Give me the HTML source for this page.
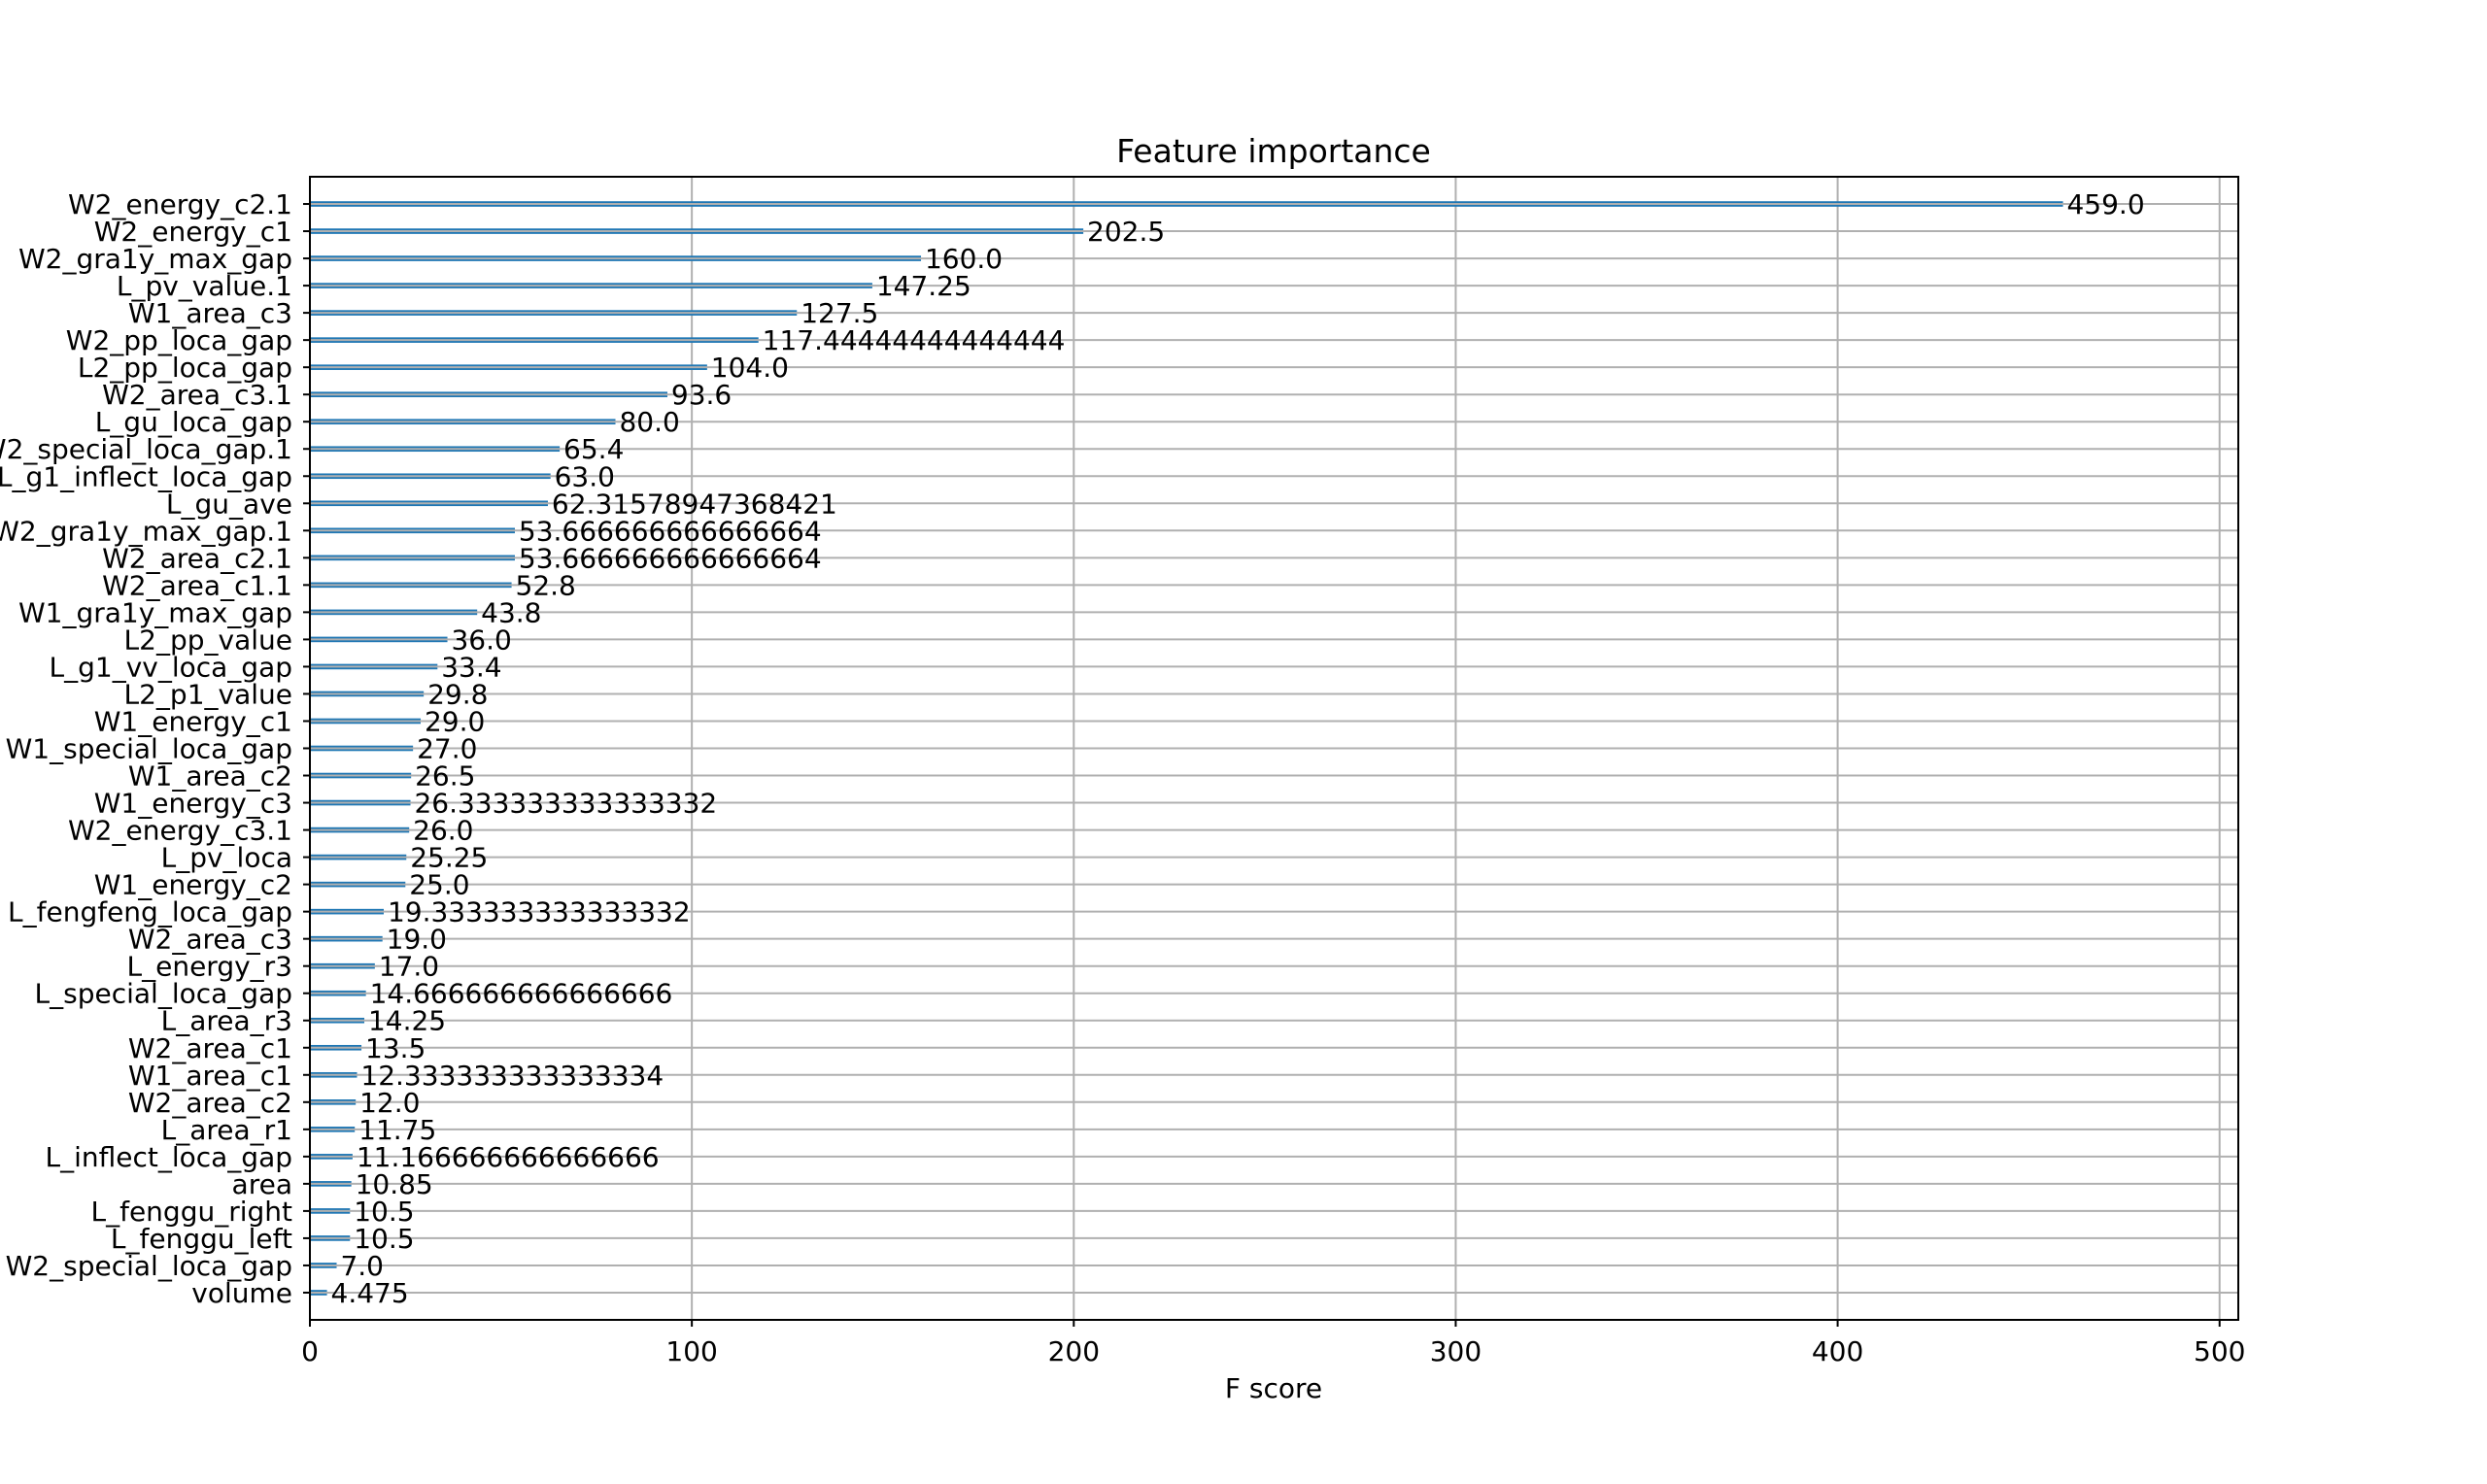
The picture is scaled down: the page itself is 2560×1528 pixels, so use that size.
<!DOCTYPE html>
<html><head><meta charset="utf-8"><style>
html,body{margin:0;padding:0;background:#fff;}
svg{display:block;font-family:"DejaVu Sans","Liberation Sans",sans-serif;}
</style></head><body>
<svg id="chart" width="2560" height="1528" viewBox="0 0 2560 1528" xmlns="http://www.w3.org/2000/svg">
<rect width="2560" height="1528" fill="#fff"/>
<g id="grid"></g>
<g id="bars"></g>
<g id="hgrid"></g>
<g id="vals"></g>
<g id="yt"></g>
<g id="xt"></g>
<rect x="319" y="182" width="1985" height="1177" fill="none" stroke="#000" stroke-width="2"/>
<text x="1311" y="167" font-size="33" text-anchor="middle">Feature importance</text>
<text x="1311" y="1439" font-size="28" text-anchor="middle">F score</text>
</svg>
<script>
const features = ["W2_energy_c2.1","W2_energy_c1","W2_gra1y_max_gap","L_pv_value.1","W1_area_c3","W2_pp_loca_gap","L2_pp_loca_gap","W2_area_c3.1","L_gu_loca_gap","W2_special_loca_gap.1","L_g1_inflect_loca_gap","L_gu_ave","W2_gra1y_max_gap.1","W2_area_c2.1","W2_area_c1.1","W1_gra1y_max_gap","L2_pp_value","L_g1_vv_loca_gap","L2_p1_value","W1_energy_c1","W1_special_loca_gap","W1_area_c2","W1_energy_c3","W2_energy_c3.1","L_pv_loca","W1_energy_c2","L_fengfeng_loca_gap","W2_area_c3","L_energy_r3","L_special_loca_gap","L_area_r3","W2_area_c1","W1_area_c1","W2_area_c2","L_area_r1","L_inflect_loca_gap","area","L_fenggu_right","L_fenggu_left","W2_special_loca_gap","volume"];
const scores = [459.0,202.5,160.0,147.25,127.5,117.44444444444444,104.0,93.6,80.0,65.4,63.0,62.31578947368421,53.666666666666664,53.666666666666664,52.8,43.8,36.0,33.4,29.8,29.0,27.0,26.5,26.333333333333332,26.0,25.25,25.0,19.333333333333332,19.0,17.0,14.666666666666666,14.25,13.5,12.333333333333334,12.0,11.75,11.166666666666666,10.85,10.5,10.5,7.0,4.475];
const xTicks = [0,100,200,300,400,500];

const NS="http://www.w3.org/2000/svg";
const L=319,R=2304,T=182,B=1359;
const xMax = Math.max(...scores)*1.1;
const n = scores.length;
function xs(v){return L+(R-L)*v/xMax;}
function ys(i){
  const k = n-1-i;
  return B-(k+1)*(B-T)/(n+1);
}
function mk(tag,attrs,parent){const e=document.createElementNS(NS,tag);for(const a in attrs)e.setAttribute(a,attrs[a]);document.getElementById(parent).appendChild(e);return e;}

xTicks.forEach(t=>{
  const x=xs(t);
  const g=mk('line',{x1:x,x2:x,y1:T,y2:B,stroke:'#b0b0b0','stroke-width':2},'grid');
  
  
  const tk=mk('line',{x1:x,x2:x,y1:B,y2:B+7,stroke:'#000','stroke-width':2},'xt');
  
  
  const tx=mk('text',{x:x,y:B+42,'font-size':28,'text-anchor':'middle'},'xt');
  tx.textContent=t;
  
  
});

features.forEach((f,i)=>{
  const y=ys(i), v=scores[i];
  const h=(B-T)/(n+1)*0.2;
  const b=mk('rect',{x:L,y:y-h/2,width:xs(v)-L,height:h,fill:'#1f77b4'},'bars');
  
  
  const gl=mk('line',{x1:L,x2:R,y1:y,y2:y,stroke:'#b0b0b0','stroke-width':2},'hgrid');
  
  
  const vt=mk('text',{x:xs(v+1),y:y+10,'font-size':28},'vals');
  vt.textContent=String(v).includes('.')?String(v):v.toFixed(1);
  
  
  const tk=mk('line',{x1:L-7,x2:L,y1:y,y2:y,stroke:'#000','stroke-width':2},'yt');
  
  
  const lt=mk('text',{x:L-18,y:y+10,'font-size':28,'text-anchor':'end'},'yt');
  lt.textContent=f;
  
  
});
</script>
</body></html>
